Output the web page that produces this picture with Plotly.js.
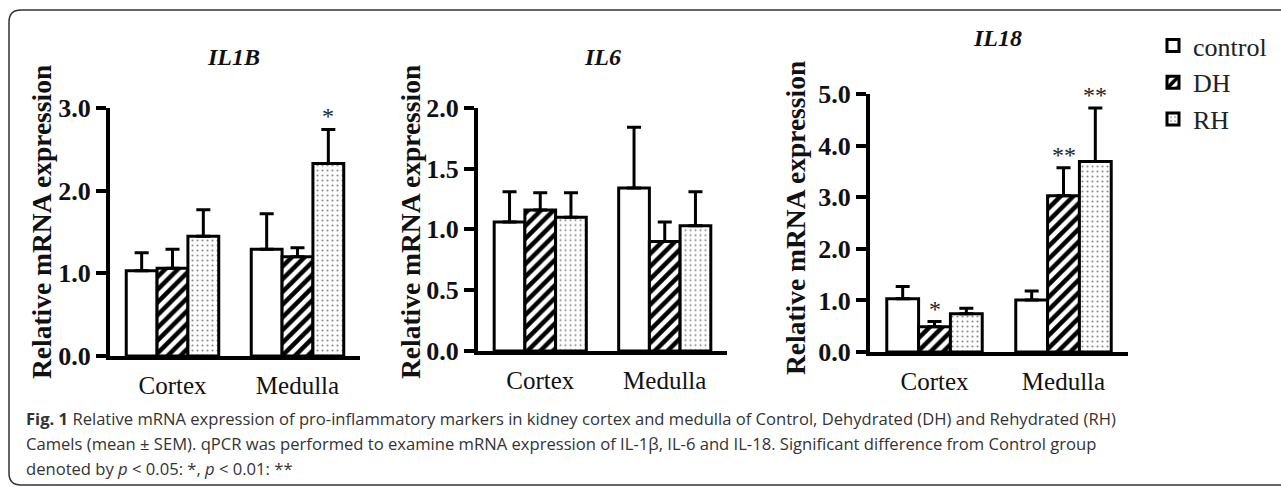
<!DOCTYPE html>
<html>
<head>
<meta charset="utf-8">
<script src="https://cdn.plot.ly/plotly-3.0.1.min.js"></script>
<style>html,body{margin:0;padding:0;background:#fff;}#chart{width:1281px;height:487px;}</style>
</head>
<body>
<div id="chart"></div>
<script>
// ---- data ----
const categories = ['Cortex', 'Medulla'];
const groupNames = ['control', 'DH', 'RH'];

const il1bControl = [1.03, 1.29];
const il1bControlSem = [0.22, 0.43];
const il1bDH = [1.06, 1.20];
const il1bDHSem = [0.23, 0.11];
const il1bRH = [1.45, 2.33];
const il1bRHSem = [0.32, 0.41];
const il1bSig = [['', ''], ['', ''], ['', '*']];

const il6Control = [1.06, 1.34];
const il6ControlSem = [0.25, 0.50];
const il6DH = [1.16, 0.90];
const il6DHSem = [0.14, 0.16];
const il6RH = [1.10, 1.03];
const il6RHSem = [0.20, 0.28];
const il6Sig = [['', ''], ['', ''], ['', '']];

const il18Control = [1.03, 1.01];
const il18ControlSem = [0.24, 0.17];
const il18DH = [0.49, 3.03];
const il18DHSem = [0.10, 0.54];
const il18RH = [0.74, 3.69];
const il18RHSem = [0.11, 1.04];
const il18Sig = [['', ''], ['*', '**'], ['', '**']];

const panelTitles = ['IL1B', 'IL6', 'IL18'];
const yTitle = 'Relative mRNA expression';
const captionLines = [
  '<b>Fig. 1</b> Relative mRNA expression of pro-inflammatory markers in kidney cortex and medulla of Control, Dehydrated (DH) and Rehydrated (RH)',
  'Camels (mean ± SEM). qPCR was performed to examine mRNA expression of IL-1β, IL-6 and IL-18. Significant difference from Control group',
  'denoted by <i>p</i> &lt; 0.05: *, <i>p</i> &lt; 0.01: **'
];

// ---- styling ----
const W = 1281, H = 487;
const px = x => x / W;
const py = y => 1 - y / H;
const SERIF = 'Liberation Serif, Times New Roman, serif';
const BARGAP = 0.26;

const fills = [
  {color: 'white', pattern: {shape: ''}},
  {color: 'white', pattern: {shape: '/', fgcolor: 'black', bgcolor: 'white', size: 9, solidity: 0.5}},
  {color: 'white', pattern: {shape: '.', fgcolor: '#8a8a8a', bgcolor: 'white', size: 5, solidity: 0.14}}
];

const panels = [
  {means: [il1bControl, il1bDH, il1bRH], sems: [il1bControlSem, il1bDHSem, il1bRHSem], sig: il1bSig,
   xd: [110, 360], yd: [108, 356], range: [0, 3], dtick: 1, tickformat: '.1f',
   title: [233, 57], ytitle: [41, 222]},
  {means: [il6Control, il6DH, il6RH], sems: [il6ControlSem, il6DHSem, il6RHSem], sig: il6Sig,
   xd: [478, 727], yd: [107.7, 351], range: [0, 2], dtick: 0.5, tickformat: '.1f',
   title: [602, 57], ytitle: [410, 222]},
  {means: [il18Control, il18DH, il18RH], sems: [il18ControlSem, il18DHSem, il18RHSem], sig: il18Sig,
   xd: [870, 1128], yd: [94, 352], range: [0, 5], dtick: 1, tickformat: '.1f',
   title: [997, 38], ytitle: [795, 218]}
];

const traces = [];
const annotations = [];
const layout = {
  width: W, height: H,
  margin: {l: 0, r: 0, t: 0, b: 0},
  paper_bgcolor: 'white', plot_bgcolor: 'rgba(0,0,0,0)',
  barmode: 'group', bargap: BARGAP, bargroupgap: 0,
  showlegend: true,
  legend: {x: px(1153), y: py(22), xanchor: 'left', yanchor: 'top',
           font: {family: SERIF, size: 26, color: '#222'}, bgcolor: 'rgba(0,0,0,0)',
           tracegroupgap: 0, itemwidth: 30},
  annotations: annotations,
  shapes: []
};

const barW = (1 - BARGAP) / 3;

panels.forEach((p, k) => {
  const sfx = k === 0 ? '' : String(k + 1);
  const xa = 'x' + sfx, ya = 'y' + sfx;
  p.means.forEach((m, i) => {
    traces.push({
      type: 'bar', x: categories, y: m, name: groupNames[i],
      xaxis: xa, yaxis: ya, legendgroup: groupNames[i], showlegend: k === 0,
      marker: {color: fills[i].color, pattern: fills[i].pattern, line: {color: 'black', width: 3}},
      error_y: {type: 'data', symmetric: false, array: p.sems[i], arrayminus: p.sems[i].map(() => 0),
                color: 'black', thickness: 3, width: 7},
      hoverinfo: 'skip'
    });
    p.sig[i].forEach((s, c) => {
      if (!s) return;
      annotations.push({xref: xa, yref: ya, x: c + (i - 1) * barW, y: m[c] + p.sems[i][c],
        text: s, showarrow: false, yanchor: 'bottom', yshift: -2,
        font: {family: SERIF, size: 24, color: '#222'}});
    });
  });
  layout['xaxis' + sfx] = {
    domain: [px(p.xd[0]), px(p.xd[1])], anchor: ya, type: 'category',
    showline: true, linecolor: 'black', linewidth: 4, ticks: '', showgrid: false, zeroline: false,
    tickfont: {family: SERIF, size: 25, color: '#111'}, ticklabelstandoff: 4, fixedrange: true
  };
  layout['yaxis' + sfx] = {
    domain: [py(p.yd[1]), py(p.yd[0])], anchor: xa, range: p.range, dtick: p.dtick, tick0: 0,
    tickformat: p.tickformat, showline: true, linecolor: 'black', linewidth: 4,
    ticks: 'outside', ticklen: 10, tickwidth: 4, tickcolor: 'black', showgrid: false, zeroline: false,
    tickfont: {family: SERIF, size: 26, color: '#111', weight: 'bold'}, fixedrange: true
  };
  annotations.push({xref: 'paper', yref: 'paper', x: px(p.title[0]), y: py(p.title[1]),
    text: '<b><i>' + panelTitles[k] + '</i></b>', showarrow: false, xanchor: 'center', yanchor: 'middle',
    font: {family: SERIF, size: 24, color: '#111'}});
  annotations.push({xref: 'paper', yref: 'paper', x: px(p.ytitle[0]), y: py(p.ytitle[1]),
    text: '<b>' + yTitle + '</b>', textangle: -90, showarrow: false, xanchor: 'center', yanchor: 'middle',
    font: {family: SERIF, size: 27.5, color: '#111'}});
});

const capY = [418, 443, 468];
captionLines.forEach((t, i) => {
  annotations.push({xref: 'paper', yref: 'paper', x: px(24), y: py(capY[i]), text: t,
    showarrow: false, xanchor: 'left', yanchor: 'middle', align: 'left',
    font: {family: 'Open Sans, sans-serif', size: 16.6, color: '#333'}});
});

// rounded frame (right side runs off the canvas)
const r = 12, L = 9, T = 10, B = 485, R = 1300;
layout.shapes.push({type: 'path', xref: 'paper', yref: 'paper', layer: 'below',
  line: {color: '#333', width: 1.5},
  path: `M ${px(R)},${py(T)} L ${px(L + r)},${py(T)} Q ${px(L)},${py(T)} ${px(L)},${py(T + r)} ` +
        `L ${px(L)},${py(B - r)} Q ${px(L)},${py(B)} ${px(L + r)},${py(B)} L ${px(R)},${py(B)}`});

Plotly.newPlot('chart', traces, layout, {staticPlot: true, displayModeBar: false});
</script>
</body>
</html>
